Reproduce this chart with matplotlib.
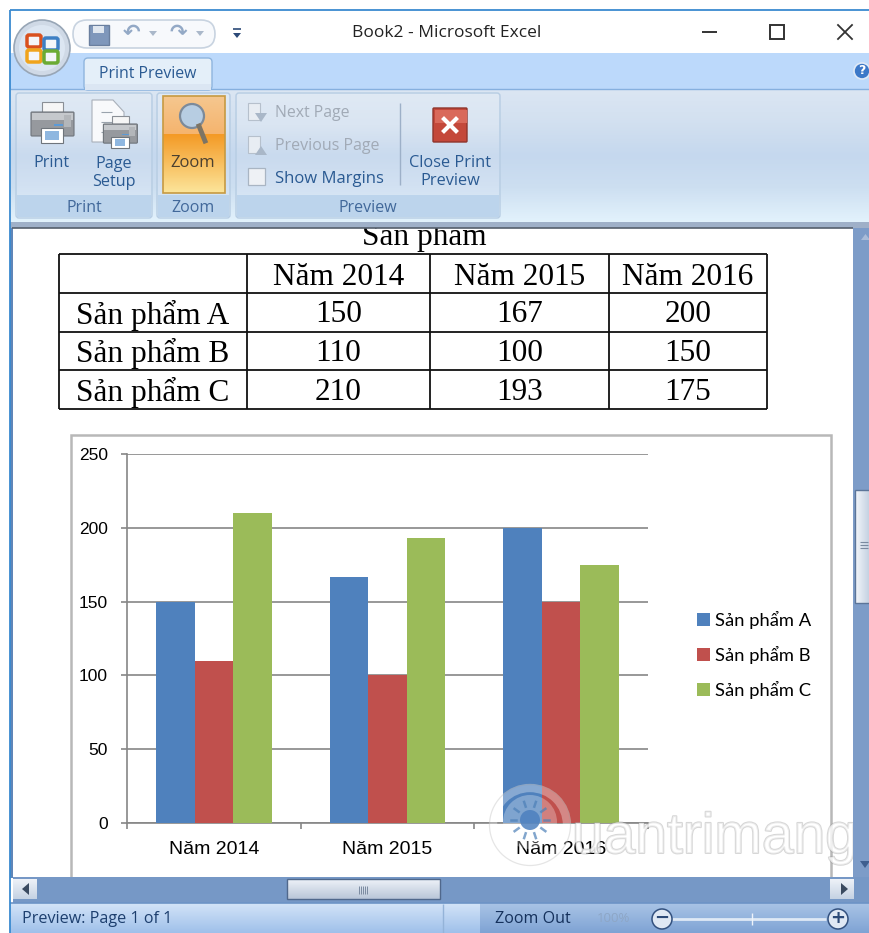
import numpy as np
import matplotlib
matplotlib.use('Agg')
import matplotlib.pyplot as plt
import matplotlib.patheffects as pe
from matplotlib.colors import LinearSegmentedColormap
from matplotlib.patches import Rectangle, FancyBboxPatch, Circle, Polygon

years = ['Năm 2014', 'Năm 2015', 'Năm 2016']
products = ['Sản phẩm A', 'Sản phẩm B', 'Sản phẩm C']
san_pham_a = [150, 167, 200]
san_pham_b = [110, 100, 150]
san_pham_c = [210, 193, 175]
bar_colors = ['#4f81bd', '#c0504d', '#9bbb59']
y_ticks = [0, 50, 100, 150, 200, 250]

UI = ['Open Sans', 'DejaVu Sans']
SERIF = ['Liberation Serif', 'DejaVu Serif']
BLUE = '#2a5a92'

fig = plt.figure(figsize=(8.7, 9.33), dpi=100)
fig.patch.set_facecolor('white')


def pixel_axes(z):
    a = fig.add_axes([0, 0, 1, 1], zorder=z)
    a.set_xlim(0, 870)
    a.set_ylim(933, 0)
    a.axis('off')
    a.patch.set_alpha(0)
    return a


def grad(a, x0, x1, y0, y1, colors, z=1, vertical=True):
    cm = LinearSegmentedColormap.from_list('g', colors)
    g = np.linspace(0, 1, 64).reshape(-1, 1)
    if not vertical:
        g = g.T
    a.imshow(g, extent=(x0, x1, y1, y0), cmap=cm, aspect='auto', zorder=z, vmin=0, vmax=1)
    a.set_xlim(0, 870)
    a.set_ylim(933, 0)


def rbox(a, x0, y0, x1, y1, fc, ec, r=3, z=2, lw=1):
    a.add_patch(FancyBboxPatch((x0 + r, y0 + r), x1 - x0 - 2 * r, y1 - y0 - 2 * r,
                               boxstyle='round,pad=%d' % r, fc=fc, ec=ec, lw=lw, zorder=z))


def printer(a, cx, cy, s=1.0):
    a.add_patch(Rectangle((cx - 10 * s, cy - 20 * s), 21 * s, 12 * s, fc='#f6f6f6', ec='#8a8f96', lw=.8, zorder=9))
    a.add_patch(FancyBboxPatch((cx - 20 * s, cy - 9 * s), 41 * s, 22 * s, boxstyle='round,pad=1', fc='#96999e', ec='#6f757c', lw=.8, zorder=10))
    a.add_patch(Rectangle((cx - 20 * s, cy - 9 * s), 41 * s, 7 * s, fc='#c5c8cc', ec='none', zorder=11))
    a.add_patch(Rectangle((cx + 12 * s, cy - 7 * s), 7 * s, 12 * s, fc='#b3b6ba', ec='none', zorder=11.5))
    a.add_patch(Rectangle((cx + 2 * s, cy + 2 * s), 9 * s, 2 * s, fc='#5c9ad6', ec='none', zorder=11.5))
    a.add_patch(Rectangle((cx - 11 * s, cy + 6 * s), 22 * s, 15 * s, fc='white', ec='#6f757c', lw=.8, zorder=12))
    a.add_patch(Rectangle((cx - 7 * s, cy + 9 * s), 14 * s, 9 * s, fc='#8fb7e0', ec='none', zorder=13))


# page, behind the chart
bg = pixel_axes(0)
bg.add_patch(Rectangle((13, 226), 842, 655, fc='white', ec='none', zorder=1))
bg.add_patch(Rectangle((71, 435), 760, 460, fc='white', ec='#b8b8b8', lw=1.8, zorder=2))
bg.text(424, 245, 'Sản phẩm', family=SERIF, fontsize=22.5, ha='center', va='baseline', color='black', zorder=3)

# table
xs = [59, 247, 430, 609, 767]
ys = [254, 293, 332, 370, 409]
bg.vlines(xs, ys[0], ys[-1], color='#111111', lw=1.3, zorder=3)
bg.hlines(ys, xs[0], xs[-1], color='#111111', lw=1.3, zorder=3)
rows = [san_pham_a, san_pham_b, san_pham_c]
for i in range(3):
    bg.text((xs[i + 1] + xs[i + 2]) / 2, (ys[0] + ys[1]) / 2 + 4, years[i], family=SERIF, fontsize=22.5,
            ha='center', va='center', zorder=4)
    bg.text((xs[0] + xs[1]) / 2, (ys[i + 1] + ys[i + 2]) / 2 + 2.5, products[i], family=SERIF, fontsize=22.5,
            ha='center', va='center', zorder=4)
    for j in range(3):
        bg.text((xs[j + 1] + xs[j + 2]) / 2, (ys[i + 1] + ys[i + 2]) / 2 + 2.5, str(rows[i][j]), family=SERIF,
                fontsize=22.5, ha='center', va='center', zorder=4)

# chart
ax = fig.add_axes([127 / 870, 1 - 823 / 933, (648 - 127) / 870, (823 - 454) / 933], zorder=1)
ax.patch.set_alpha(0)
x = np.arange(len(years))
w = 0.222
b1 = ax.bar(x - w, san_pham_a, w, color=bar_colors[0], label=products[0], zorder=3)
b2 = ax.bar(x, san_pham_b, w, color=bar_colors[1], label=products[1], zorder=3)
b3 = ax.bar(x + w, san_pham_c, w, color=bar_colors[2], label=products[2], zorder=3)
ax.set_xlim(-0.5, 2.5)
ax.set_ylim(0, 250)
ax.set_yticks(y_ticks)
ax.set_xticks([-0.5, 0.5, 1.5, 2.5])
ax.set_xticklabels([])
ax.set_xticks(x, minor=True)
ax.set_xticklabels(years, minor=True, family=['Liberation Sans'], fontsize=14)
ax.tick_params(axis='x', which='minor', length=0, pad=13)
ax.tick_params(axis='x', which='major', length=4.5, color='#868686', width=1.2)
ax.tick_params(axis='y', length=4.5, color='#868686', width=1.2, pad=9.4)
for lab in ax.get_yticklabels():
    lab.set_family(['Liberation Sans'])
    lab.set_fontsize(12.5)
ax.grid(axis='y', color='#868686', lw=1.2, zorder=0)
ax.set_axisbelow(True)
for s in ['top', 'right']:
    ax.spines[s].set_visible(False)
for s in ['left', 'bottom']:
    ax.spines[s].set_color('#868686')
    ax.spines[s].set_linewidth(1.2)
leg = fig.legend(handles=[b1, b2, b3], loc='center left', bbox_to_anchor=(681 / 870, 1 - 655 / 933),
                 frameon=False, handlelength=0.68, handleheight=0.68, handletextpad=0.25,
                 labelspacing=0.92, prop={'family': ['Lato', 'Open Sans'], 'size': 13.2})

# chrome and watermark, above the chart
top = pixel_axes(2)

# watermark
top.add_patch(Circle((530, 825), 37, fc='none', ec=(1, 1, 1, .32), lw=6, zorder=2))
top.add_patch(Circle((530, 825), 40.5, fc='none', ec=(.6, .6, .6, .25), lw=.9, zorder=2))
top.add_patch(Circle((530, 822), 27, fc=(1, 1, 1, .28), ec='none', zorder=2))
top.add_patch(Circle((530, 820), 10, fc=(.3, .5, .75, .85), ec='none', zorder=3))
for ang in np.arange(0, 360, 36):
    r = np.radians(ang)
    top.plot([530 + 14 * np.cos(r), 530 + 19 * np.cos(r)], [820 + 14 * np.sin(r), 820 + 19 * np.sin(r)],
             color=(.3, .5, .72, .7), lw=1.8, zorder=3)
top.text(572, 853, 'uantrimang', family=['Liberation Sans'], fontsize=41, color=(1, 1, 1, .55), zorder=3,
         path_effects=[pe.withStroke(linewidth=1.4, foreground=(.6, .6, .6, .4))])

# right and bottom scroll bars
top.add_patch(Rectangle((853, 228), 17, 650, fc='#7d9cc8', ec='none', zorder=5))
top.add_patch(Rectangle((0, 0), 13, 933, fc='white', ec='none', zorder=5))
top.add_patch(Rectangle((10, 228), 3, 650, fc='#5f86b8', ec='none', zorder=5))
grad(top, 855, 870, 490, 603, ['#f4f7fb', '#c2cfe0'], z=6, vertical=False)
top.add_patch(Rectangle((855, 490), 15, 113, fc='none', ec='#5c7599', lw=1, zorder=7))
top.hlines([542, 545, 548], 860, 868, color='#7a8aa0', lw=.8, zorder=7)
top.add_patch(Polygon([[860, 861], [870, 861], [865, 868]], fc='#3f5f8f', ec='none', zorder=7))
top.add_patch(Polygon([[861, 240], [870, 240], [865.5, 234]], fc='#a9bcd8', ec='none', zorder=7))
top.add_patch(Rectangle((13, 877), 857, 26, fc='#7698c6', ec='none', zorder=8))
grad(top, 287, 440, 879, 899, ['#eef2f8', '#b9c6d8'], z=9)
top.add_patch(Rectangle((287, 879), 153, 20, fc='none', ec='#50688c', lw=1, zorder=10))
top.vlines([359, 361, 363, 365, 367], 886, 894, color='#7a8aa0', lw=.7, zorder=10)
for x0, pts in [(13, [[29, 883], [29, 895], [22, 889]]), (830, [[841, 883], [841, 895], [848, 889]])]:
    grad(top, x0, x0 + 24, 879, 899, ['#eef2f8', '#c5d2e3'], z=9)
    top.add_patch(Polygon(pts, fc='#3a4a60', ec='none', zorder=10))

# status bar
grad(top, 10, 480, 903, 933, ['#d3e4f8', '#9fc0ea'], z=8)
grad(top, 480, 870, 903, 933, ['#a9c4e6', '#7fa3d4'], z=8)
top.hlines(903, 10, 870, color='#6d94c6', lw=1.2, zorder=9)
top.vlines(443, 904, 933, color='#94b3d8', lw=1, zorder=9)
top.text(22, 919, 'Preview: Page 1 of 1', family=UI, fontsize=11.6, color='#1d3f6e', va='center', zorder=10)
top.text(495, 919, 'Zoom Out', family=UI, fontsize=11.6, color='#15315c', va='center', zorder=10)
top.text(597, 919, '100%', family=UI, fontsize=9.5, color='#8da6c6', va='center', zorder=10)
top.hlines(919, 672, 826, color='#dfe9f5', lw=2, zorder=9)
top.vlines(752, 913, 925, color='#eef3fa', lw=1, zorder=9)
for cx, sign in [(662, '−'), (838, '+')]:
    top.add_patch(Circle((cx, 919), 10, fc='#dfe8f4', ec='#33517f', lw=1.1, zorder=10))
    top.text(cx, 918, sign, family=['DejaVu Sans'], fontsize=13, fontweight='bold', ha='center', va='center',
             color='#2c4a78', zorder=11)

# title bar, tab strip and ribbon
top.add_patch(Rectangle((0, 0), 870, 54, fc='white', ec='none', zorder=5))
top.hlines(10, 10, 870, color='#3a8ad0', lw=1.3, zorder=6)
top.vlines(10, 10, 933, color='#3a8ad0', lw=1.3, zorder=12)
top.add_patch(Rectangle((10, 53), 860, 36, fc='#bcd9fb', ec='none', zorder=5))
top.hlines(89, 10, 870, color='#86b0df', lw=1, zorder=7)
grad(top, 11, 870, 89, 222, ['#dbe6f3', '#d2e0f0', '#c5d8ee', '#cddff1', '#e2f2fc'], z=5)
top.add_patch(Rectangle((10, 222), 860, 6, fc='#9fb0c8', ec='none', zorder=6))
top.hlines(228, 12, 853, color='#555f6c', lw=1.2, zorder=7)

# quick access bar and office button
top.add_patch(FancyBboxPatch((76, 23), 136, 22, boxstyle='round,pad=3,rounding_size=14', fc='#f7f9fc', ec='#c8d3e0', lw=1.2, zorder=6))
top.add_patch(Circle((42, 48), 28, fc='#cfd9e6', ec='#98a6b6', lw=1.2, zorder=7))
top.add_patch(Circle((42, 48), 23, fc='#dce6f2', ec='none', zorder=7))
for (x0, y0, c) in [(27, 35, '#d9501e'), (44, 38, '#3d7fc4'), (27, 50, '#f0a41c'), (44, 51, '#6bab34')]:
    top.add_patch(FancyBboxPatch((x0 + 2, y0 + 2), 10, 8, boxstyle='round,pad=2', fc='#f4f6f9', ec=c, lw=2.5, zorder=8))
top.add_patch(Rectangle((89, 25), 20, 20, fc='#7f97bb', ec='#6a7f9f', zorder=8))
top.add_patch(Rectangle((93, 26), 11, 7, fc='#dfe6ef', ec='none', zorder=9))
top.text(132, 33, '↶', family=['DejaVu Sans'], fontsize=15, fontweight='bold', color='#93a9c6', ha='center', va='center', zorder=8)
top.text(178, 33, '↷', family=['DejaVu Sans'], fontsize=15, fontweight='bold', color='#93a9c6', ha='center', va='center', zorder=8)
for px in [153, 200]:
    top.add_patch(Polygon([[px - 4, 31], [px + 4, 31], [px, 36]], fc='#aab8ca', ec='none', zorder=8))
top.add_patch(Polygon([[233, 33], [241, 33], [237, 38]], fc='#2c4a78', ec='none', zorder=8))
top.hlines(29, 233, 241, color='#2c4a78', lw=1.2, zorder=8)
top.text(447, 33, 'Book2 - Microsoft Excel', family=UI, fontsize=12.5, color='#222222', ha='center', va='center', zorder=8)
top.hlines(32, 702, 717, color='#333333', lw=1.4, zorder=8)
top.add_patch(Rectangle((770, 25), 14, 14, fc='none', ec='#333333', lw=1.4, zorder=8))
top.plot([838, 852], [25, 39], color='#333333', lw=1.3, zorder=8)
top.plot([838, 852], [39, 25], color='#333333', lw=1.3, zorder=8)
top.add_patch(Circle((862, 71), 8, fc='#3c78c8', ec='#dfe9f6', lw=1.2, zorder=8))
top.text(862, 71, '?', family=['DejaVu Sans'], fontsize=9, fontweight='bold', color='white', ha='center', va='center', zorder=9)

# tab
top.add_patch(FancyBboxPatch((84, 58), 128, 32, boxstyle='round,pad=0,rounding_size=4', fc='#e4eff9', ec='#8fb5de', lw=1, zorder=6))
top.add_patch(Rectangle((85, 84), 126, 6, fc='#dbe6f3', ec='none', zorder=7))
top.text(148, 74, 'Print Preview', family=UI, fontsize=11.4, color=BLUE, ha='center', va='center', zorder=8)

# ribbon groups
for x0, x1, name in [(16, 152, 'Print'), (157, 230, 'Zoom'), (236, 500, 'Preview')]:
    grad(top, x0 + 1, x1 - 1, 94, 217, ['#dfe9f4', '#dae5f2', '#c9daee', '#d2e1f2', '#dcebf8'], z=6)
    rbox(top, x0, 93, x1, 218, 'none', '#b7cde3', z=6.5)
    top.add_patch(Rectangle((x0 + 1, 195), x1 - x0 - 2, 22, fc='#bcd4ec', ec='none', zorder=7))
    top.text((x0 + x1) / 2, 208, name, family=UI, fontsize=11.5, color='#41689a', ha='center', va='center', zorder=8)

printer(top, 52, 122)
top.add_patch(Polygon([[92, 100], [113, 100], [124, 112], [124, 142], [92, 142]], fc='#f8f9fb', ec='#a9b0ba', lw=.8, zorder=8))
top.hlines([112, 122, 132], 101, 112, color='#9aa3ad', lw=.8, zorder=8.5)
printer(top, 120, 132, .78)
top.text(51, 163, 'Print', family=UI, fontsize=11.6, color=BLUE, ha='center', va='center', zorder=8)
top.text(114, 173, 'Page\nSetup', family=UI, fontsize=11.6, color=BLUE, ha='center', va='center', linespacing=1.22, zorder=8)

# active zoom button
grad(top, 163, 225, 96, 134, ['#f5c78f', '#f5b46e'], z=8)
grad(top, 163, 225, 134, 193, ['#f49a26', '#fce59a'], z=8)
top.add_patch(Rectangle((163, 96), 62, 97, fc='none', ec='#c79a42', lw=1.2, zorder=9))
top.add_patch(Circle((192, 116), 12, fc='#b7cde2', ec='#7c8a9a', lw=1.6, zorder=10))
top.plot([199, 205], [126, 141], color='#7d7464', lw=3.5, zorder=10)
top.text(193, 163, 'Zoom', family=UI, fontsize=12, color='#4b4030', ha='center', va='center', zorder=11)

# preview group items
for yy in [112, 145]:
    top.add_patch(Rectangle((248, yy - 9), 12, 17, fc='#e8edf3', ec='#b6c0cc', lw=.8, zorder=8))
    top.add_patch(Polygon([[255, yy + 10], [267, yy + 10], [261, yy + 1]] if yy == 145 else [[255, yy + 1], [267, yy + 1], [261, yy + 10]],
                          fc='#a9b7c8', ec='none', zorder=9))
top.text(275, 113, 'Next Page', family=UI, fontsize=11.4, color='#a1aab6', va='center', zorder=8)
top.text(275, 146, 'Previous Page', family=UI, fontsize=11.5, color='#a1aab6', va='center', zorder=8)
top.add_patch(Rectangle((248, 168), 17, 17, fc='#eef1f5', ec='#a9b5c3', lw=.9, zorder=8))
top.text(275, 179, 'Show Margins', family=UI, fontsize=12, color=BLUE, va='center', zorder=8)
top.vlines(400, 103, 185, color='#9db0c8', lw=1, zorder=8)
top.add_patch(FancyBboxPatch((434, 109), 32, 32, boxstyle='round,pad=1', fc='#c4483a', ec='#8f352c', lw=1, zorder=8))
top.add_patch(Rectangle((435, 110), 32, 13, fc='#d9695a', ec='none', zorder=8.5))
top.plot([444, 456], [119, 131], color='white', lw=3, zorder=9)
top.plot([444, 456], [131, 119], color='white', lw=3, zorder=9)
top.text(450, 172, 'Close Print\nPreview', family=UI, fontsize=11.8, color=BLUE, ha='center', va='center', linespacing=1.22, zorder=8)

fig.savefig('out.png', dpi=100)
